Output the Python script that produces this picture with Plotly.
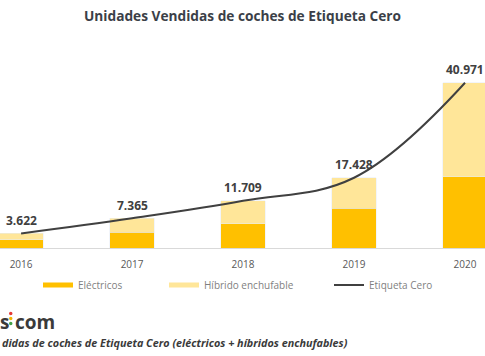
import plotly.graph_objects as go

# ---- data ----
years = ["2016", "2017", "2018", "2019", "2020"]
electricos = [2000, 3900, 6000, 9900, 17700]
hibridos = [1622, 3465, 5709, 7528, 23271]
etiqueta_cero = [3622, 7365, 11709, 17428, 40971]
title_text = "Unidades Vendidas de coches de Etiqueta Cero"
caption_text = "didas de coches de Etiqueta Cero (eléctricos + híbridos enchufables)"

W, H = 485, 356
T, B = 54, 108
PLOT_H = H - T - B


def px_x(px):
    return px / W


def px_y(py):
    return (H - B - py) / PLOT_H


C_ELEC = "#FFC000"
C_HIB = "#FFE699"
C_LINE = "#404040"

fig = go.Figure()
fig.add_trace(go.Bar(x=years, y=electricos, name="Eléctricos", marker_color=C_ELEC,
                     width=0.4, showlegend=False))
fig.add_trace(go.Bar(x=years, y=hibridos, name="Híbrido enchufable", marker_color=C_HIB,
                     width=0.4, showlegend=False))
fig.add_trace(go.Scatter(x=years, y=etiqueta_cero, name="Etiqueta Cero", mode="lines",
                         line=dict(color=C_LINE, width=2, shape="spline", smoothing=1.1),
                         showlegend=False))

# legend proxies
fig.add_trace(go.Scatter(x=[None], y=[None], mode="lines", name="Eléctricos",
                         line=dict(color=C_ELEC, width=5), legend="legend"))
fig.add_trace(go.Scatter(x=[None], y=[None], mode="lines", name="Híbrido enchufable",
                         line=dict(color=C_HIB, width=5), legend="legend2"))
fig.add_trace(go.Scatter(x=[None], y=[None], mode="lines", name="Etiqueta Cero",
                         line=dict(color=C_LINE, width=2), legend="legend3"))

for i, v in enumerate(etiqueta_cero):
    fig.add_annotation(x=i, y=v, text=f"{v:,}".replace(",", "."), showarrow=False,
                       yshift=13, font=dict(family="Open Sans", size=12, color=C_LINE, weight="bold"))

leg_common = dict(orientation="h", yanchor="middle", xanchor="left",
                  font=dict(family="Open Sans", size=10, color="#7F7F7F"),
                  bgcolor="rgba(0,0,0,0)", itemwidth=30)
fig.update_layout(
    legend=dict(x=px_x(38), y=px_y(285), **leg_common),
    legend2=dict(x=px_x(164), y=px_y(285), **leg_common),
    legend3=dict(x=px_x(329), y=px_y(285), **leg_common),
)

# logo and caption
fig.add_annotation(xref="paper", yref="paper", x=px_x(-2), y=px_y(322), xanchor="left", yanchor="middle",
                   text="s<span style='color:rgba(0,0,0,0)'>:</span>com", showarrow=False,
                   font=dict(family="Open Sans", size=19, color="#3A3A3A", weight="bold"))
for cy, col in [(313.5, "#E53935"), (318.5, "#F4B400"), (323.5, "#43A047")]:
    fig.add_shape(type="circle", xref="paper", yref="paper",
                  x0=px_x(9), x1=px_x(12.5), y0=px_y(cy + 1.8), y1=px_y(cy - 1.8),
                  fillcolor=col, line_width=0)
fig.add_annotation(xref="paper", yref="paper", x=px_x(0), y=px_y(342), xanchor="left", yanchor="middle",
                   text=f"<i>{caption_text}</i>", showarrow=False,
                   font=dict(family="Open Sans", size=10.8, color="#3A3A3A", weight="bold"))

fig.update_layout(
    width=W, height=H,
    barmode="stack",
    margin=dict(l=0, r=0, t=T, b=B),
    paper_bgcolor="white", plot_bgcolor="white",
    title=dict(text=f"<b>{title_text}</b>", x=0.5, xanchor="center", y=1 - 16 / H, yanchor="middle",
               yref="container", font=dict(family="Open Sans", size=13.7, color="#3B3F48")),
    xaxis=dict(type="category", range=[-0.19, 4.18], showgrid=False, showline=True,
               linecolor="#D9D9D9", linewidth=1, ticks="", ticklabelstandoff=7,
               tickfont=dict(family="Open Sans", size=10, color="#595959"), fixedrange=True),
    yaxis=dict(range=[0, 248 * PLOT_H], visible=False, showgrid=False, fixedrange=True),
)

fig.write_html("out.html", config={"displayModeBar": False},
               post_script="document.body.style.margin='0';document.body.style.overflow='hidden';")
